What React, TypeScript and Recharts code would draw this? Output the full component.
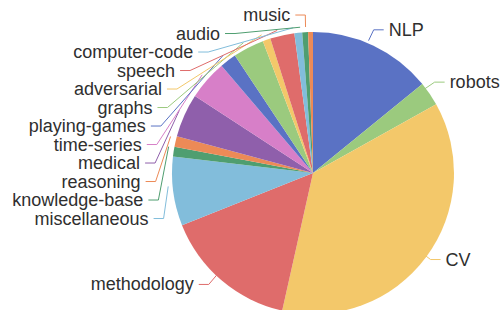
import { useMemo } from 'react'
import { PieChart, Pie, Cell } from 'recharts'

const CATEGORIES = [
  'NLP', 'robots', 'CV', 'methodology', 'miscellaneous', 'knowledge-base',
  'reasoning', 'medical', 'time-series', 'playing-games', 'graphs',
  'adversarial', 'speech', 'computer-code', 'audio', 'music',
]
const VALUES = [127, 25, 329, 139, 71, 10, 11, 45, 41, 17, 32, 8, 25, 8, 6, 5]
const PALETTE = ['#5a72c4', '#9bca7e', '#f3c86a', '#df6c6b', '#82bddb', '#4f9e70', '#ec8a57', '#8f5fab', '#d77fc8']

const CX = 308
const CY = 168
const RADIUS = 141
const ELBOW = 12
const LEG2 = 10
const TEXT_GAP = 5
const LINE_H = 18.5

type LabelPos = {
  edge: [number, number]
  elbow: [number, number]
  end: [number, number]
  textX: number
  side: number
}

// echarts-ish label layout: push overlapping labels down, keep elbows on a circle
const layoutLabels = (values: number[]): LabelPos[] => {
  const total = values.reduce((a, b) => a + b, 0)
  const R = RADIUS + ELBOW
  let cum = 0
  const items = values.map((v, i) => {
    const start = 90 - (360 * cum) / total
    cum += v
    const mid = ((start - (180 * v) / total) * Math.PI) / 180
    const side = Math.cos(mid) >= 0 ? 1 : -1
    return {
      i,
      side,
      edge: [CX + RADIUS * Math.cos(mid), CY - RADIUS * Math.sin(mid)] as [number, number],
      y: CY - R * Math.sin(mid),
    }
  })
  for (const s of [-1, 1]) {
    const group = items.filter(it => it.side === s).sort((a, b) => a.y - b.y)
    let prev = -Infinity
    group.forEach(it => {
      it.y = Math.max(it.y, prev + LINE_H)
      prev = it.y
    })
  }
  const out: LabelPos[] = []
  items.forEach(it => {
    const dy = it.y - CY
    const ex = CX + it.side * Math.sqrt(Math.max(0, R * R - dy * dy))
    const endX = ex + it.side * LEG2
    out[it.i] = {
      edge: it.edge,
      elbow: [ex, it.y],
      end: [endX, it.y],
      textX: endX + it.side * TEXT_GAP,
      side: it.side,
    }
  })
  return out
}

const App = () => {
  const data = useMemo(() => CATEGORIES.map((name, i) => ({ name, value: VALUES[i] })), [])
  const layout = useMemo(() => layoutLabels(VALUES), [])

  const renderLabel = (props: any) => {
    const idx = props.index as number
    const p = layout[idx]
    if (!p) return null
    const color = PALETTE[idx % PALETTE.length]
    return (
      <g key={`lbl-${idx}`}>
        <polyline
          points={`${p.edge[0]},${p.edge[1]} ${p.elbow[0]},${p.elbow[1]} ${p.end[0]},${p.end[1]}`}
          fill="none"
          stroke={color}
          strokeWidth={1}
        />
        <text
          x={p.textX}
          y={p.elbow[1]}
          textAnchor={p.side > 0 ? 'start' : 'end'}
          dominantBaseline="central"
          fill="#2f2f2f"
          fontSize={18}
          fontFamily="'Liberation Sans', Arial, sans-serif"
        >
          {CATEGORIES[idx]}
        </text>
      </g>
    )
  }

  return (
    <div style={{ position: 'fixed', left: 0, top: 0, background: '#fff' }}>
      <PieChart width={504} height={310}>
        <Pie
          data={data}
          dataKey="value"
          nameKey="name"
          cx={CX}
          cy={CY}
          outerRadius={RADIUS}
          startAngle={90}
          endAngle={-270}
          stroke="none"
          label={renderLabel}
          labelLine={false}
          isAnimationActive={false}
        >
          {data.map((d, i) => (
            <Cell key={d.name} fill={PALETTE[i % PALETTE.length]} />
          ))}
        </Pie>
      </PieChart>
    </div>
  )
}

export default App
